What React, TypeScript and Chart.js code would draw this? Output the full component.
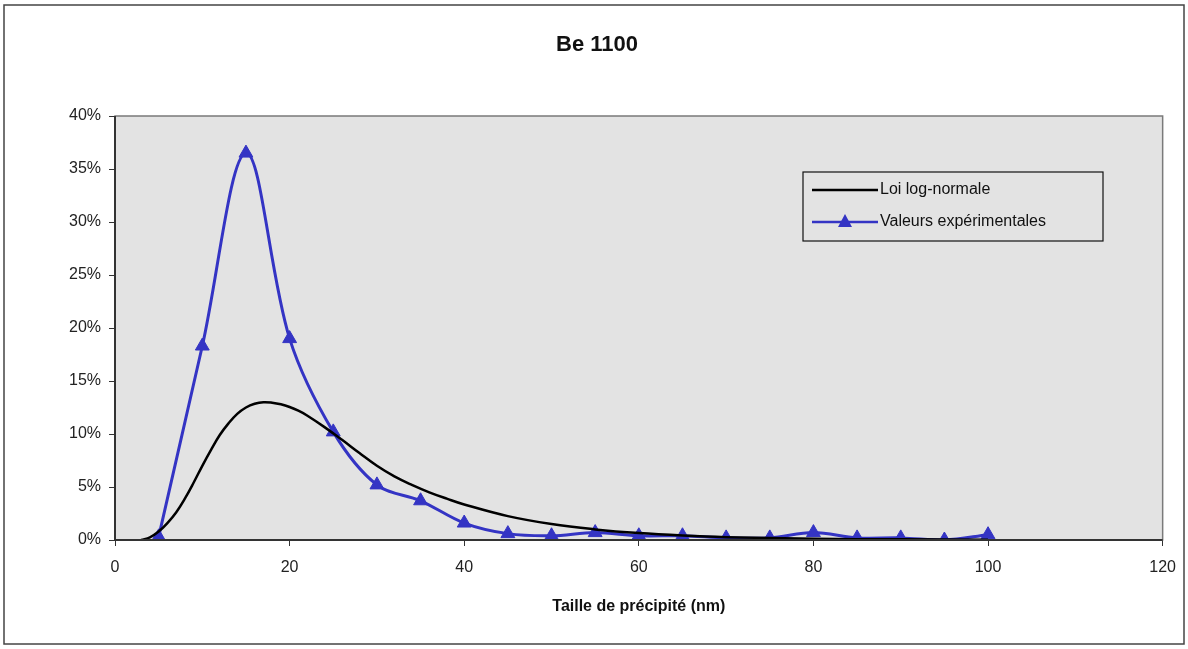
import React, { useEffect, useRef } from "react";
import { Chart, registerables } from "chart.js";

Chart.register(...registerables);

const chartTitle = "Be 1100";
const xAxisTitle = "Taille de précipité (nm)";
const xTicks = [0, 20, 40, 60, 80, 100, 120];
const yTicks = [0, 5, 10, 15, 20, 25, 30, 35, 40];

const expSizes = [5, 10, 15, 20, 25, 30, 35, 40, 45, 50, 55, 60, 65, 70, 75, 80, 85, 90, 95, 100];
const expValues = [0.3, 18.3, 36.5, 19.0, 10.2, 5.2, 3.7, 1.6, 0.6, 0.4, 0.7, 0.4, 0.4, 0.2, 0.2, 0.7, 0.2, 0.2, 0.0, 0.5];

const logSizes = [3, 4, 5, 6, 7, 8, 9, 10, 11, 12, 13, 14, 15, 16, 17, 18, 19, 20, 21, 22, 24, 26, 28, 30, 32, 34, 36, 38, 40, 45, 50, 55, 60, 65, 70, 80, 90, 100];
const logValues = [0, 0.25, 0.8, 1.6, 2.6, 3.9, 5.4, 7.0, 8.5, 9.9, 11.0, 11.9, 12.5, 12.85, 13.0, 12.95, 12.8, 12.55, 12.2, 11.75, 10.65, 9.45, 8.2, 7.0, 6.0, 5.2, 4.5, 3.9, 3.35, 2.25, 1.5, 1.0, 0.65, 0.42, 0.27, 0.12, 0.06, 0.03];

const seriesNames = ["Loi log-normale", "Valeurs expérimentales"];

const BLUE = "#3434c4";
const FONT = "'Liberation Sans', Arial, sans-serif";

const decorPlugin = {
  id: "decor",
  beforeDraw(chart: any) {
    const { ctx, chartArea } = chart;
    ctx.save();
    ctx.fillStyle = "#ffffff";
    ctx.fillRect(0, 0, chart.width, chart.height);
    ctx.strokeStyle = "#444";
    ctx.lineWidth = 1.5;
    ctx.strokeRect(4, 5, chart.width - 8, chart.height - 10);
    ctx.fillStyle = "#e3e3e3";
    ctx.fillRect(chartArea.left, chartArea.top, chartArea.right - chartArea.left, chartArea.bottom - chartArea.top);
    ctx.restore();
  },
  afterDatasetsDraw(chart: any) {
    const { ctx, chartArea } = chart;
    ctx.save();
    ctx.strokeStyle = "#7a7a7a";
    ctx.lineWidth = 1.5;
    ctx.strokeRect(chartArea.left, chartArea.top, chartArea.right - chartArea.left, chartArea.bottom - chartArea.top);
    ctx.strokeStyle = "#333";
    ctx.lineWidth = 2;
    ctx.beginPath();
    ctx.moveTo(chartArea.left, chartArea.top);
    ctx.lineTo(chartArea.left, chartArea.bottom);
    ctx.lineTo(chartArea.right, chartArea.bottom);
    ctx.stroke();

    ctx.fillStyle = "#111";
    ctx.textAlign = "center";
    ctx.textBaseline = "middle";
    ctx.font = `bold 22px ${FONT}`;
    ctx.fillText(chartTitle, 597, 45);
    ctx.font = `bold 16px ${FONT}`;
    ctx.fillText(xAxisTitle, (chartArea.left + chartArea.right) / 2, 607);

    const lx = 803, ly = 172, lw = 300, lh = 69;
    ctx.strokeStyle = "#111";
    ctx.lineWidth = 1.2;
    ctx.strokeRect(lx, ly, lw, lh);
    ctx.font = `16px ${FONT}`;
    ctx.textAlign = "left";
    const rows = [ly + 18, ly + 50];
    ctx.lineWidth = 2.5;
    ctx.strokeStyle = "#000";
    ctx.beginPath();
    ctx.moveTo(lx + 9, rows[0]);
    ctx.lineTo(lx + 75, rows[0]);
    ctx.stroke();
    ctx.strokeStyle = BLUE;
    ctx.beginPath();
    ctx.moveTo(lx + 9, rows[1]);
    ctx.lineTo(lx + 75, rows[1]);
    ctx.stroke();
    ctx.fillStyle = BLUE;
    ctx.beginPath();
    ctx.moveTo(lx + 42, rows[1] - 8);
    ctx.lineTo(lx + 49, rows[1] + 5);
    ctx.lineTo(lx + 35, rows[1] + 5);
    ctx.closePath();
    ctx.fill();
    ctx.fillStyle = "#111";
    ctx.fillText(seriesNames[0], lx + 77, rows[0]);
    ctx.fillText(seriesNames[1], lx + 77, rows[1]);
    ctx.restore();
  },
};

export default function App() {
  const ref = useRef<HTMLCanvasElement | null>(null);
  useEffect(() => {
    document.body.style.margin = "0";
    const canvas = ref.current;
    if (!canvas) return;
    const chart = new Chart(canvas, {
      type: "line",
      data: {
        datasets: [
          {
            label: seriesNames[0],
            data: logSizes.map((x, i) => ({ x, y: logValues[i] })),
            borderColor: "#000",
            borderWidth: 2.5,
            pointRadius: 0,
            tension: 0.4,
            fill: false,
          },
          {
            label: seriesNames[1],
            data: expSizes.map((x, i) => ({ x, y: expValues[i] })),
            borderColor: BLUE,
            backgroundColor: BLUE,
            borderWidth: 3,
            pointStyle: "triangle",
            pointRadius: 8,
            pointBorderWidth: 1,
            tension: 0.35,
            fill: false,
          },
        ],
      },
      options: {
        animation: false,
        responsive: false,
        maintainAspectRatio: false,
        layout: { padding: { left: 0, top: 116, right: 23, bottom: 0 } },
        plugins: { legend: { display: false }, title: { display: false }, tooltip: { enabled: false } },
        scales: {
          x: {
            type: "linear",
            min: 0,
            max: 120,
            afterBuildTicks: (s: any) => {
              s.ticks = xTicks.map((v) => ({ value: v }));
            },
            afterFit: (s: any) => {
              s.height = 109;
            },
            grid: { drawOnChartArea: false, drawTicks: true, tickLength: 6, color: "#333" },
            border: { display: false },
            ticks: { color: "#222", font: { family: FONT, size: 16 }, padding: 12, maxRotation: 0 },
          },
          y: {
            min: 0,
            max: 40,
            afterBuildTicks: (s: any) => {
              s.ticks = yTicks.map((v) => ({ value: v }));
            },
            afterFit: (s: any) => {
              s.width = 115;
            },
            grid: { drawOnChartArea: false, drawTicks: true, tickLength: 6, color: "#333" },
            border: { display: false },
            ticks: {
              color: "#222",
              font: { family: FONT, size: 16 },
              padding: 8,
              callback: (v: any) => `${v}%`,
            },
          },
        },
      },
      plugins: [decorPlugin],
    });
    return () => chart.destroy();
  }, []);
  return <canvas ref={ref} width={1188} height={649} style={{ display: "block" }} />;
}
